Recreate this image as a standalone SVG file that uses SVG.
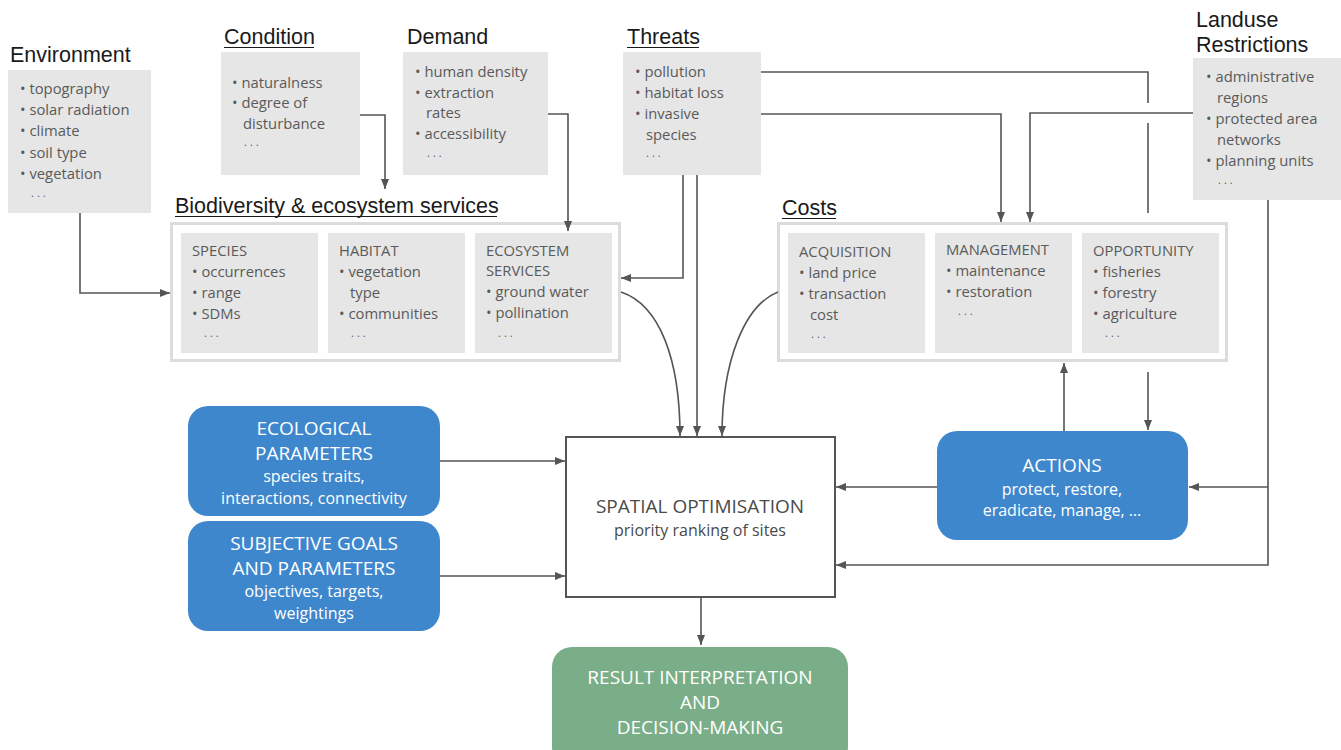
<svg xmlns="http://www.w3.org/2000/svg" width="1341" height="750" viewBox="0 0 1341 750">
<defs>
<marker id="ah" markerWidth="10" markerHeight="8" refX="10" refY="4" orient="auto" markerUnits="userSpaceOnUse"><path d="M0,0 L10,4 L0,8 z" fill="#555"/></marker>
<style>
.title{font-family:"Liberation Sans",Arial,sans-serif;font-size:21.5px;fill:#1a1a1a}
.ul{stroke:#1a1a1a;stroke-width:1}
.gbox{fill:#e6e6e6}
.outer{fill:#fff;stroke:#dcdcdc;stroke-width:3}
.it{font-family:"Open Sans","DejaVu Sans",sans-serif;font-size:14.8px;fill:#5a5a5a}
.hd{font-family:"Open Sans","DejaVu Sans",sans-serif;font-size:14.8px;fill:#5a5a5a}
.dots{font-size:11px;letter-spacing:3px}
.blue{fill:#3e87cd}
.green{fill:#7aae88}
.wh{font-family:"Open Sans","DejaVu Sans",sans-serif;fill:#fff;text-anchor:middle}
.wh1{font-size:19px}
.wh2{font-size:16px}
.conn{fill:none;stroke:#555;stroke-width:1.6}
</style>
</defs>
<rect width="1341" height="750" fill="#fff"/>

<g id="environment">
<text class="title" x="10" y="62">Environment</text>
<rect class="gbox" x="8" y="70" width="143" height="143"/>
<text class="it" x="20" y="94">• topography</text>
<text class="it" x="20" y="115">• solar radiation</text>
<text class="it" x="20" y="136">• climate</text>
<text class="it" x="20" y="158">• soil type</text>
<text class="it" x="20" y="179">• vegetation</text>
<text class="it dots" x="31" y="197">...</text>
</g>

<g id="condition">
<text class="title" x="224" y="44">Condition</text>
<line class="ul" x1="224" y1="47.5" x2="314" y2="47.5"/>
<rect class="gbox" x="221" y="52" width="139" height="123"/>
<text class="it" x="232" y="88">• naturalness</text>
<text class="it" x="232" y="108">• degree of</text>
<text class="it" x="243" y="129">disturbance</text>
<text class="it dots" x="244" y="146">...</text>
</g>

<g id="demand">
<text class="title" x="407" y="44">Demand</text>
<rect class="gbox" x="403" y="52" width="145" height="123"/>
<text class="it" x="415" y="77">• human density</text>
<text class="it" x="415" y="98">• extraction</text>
<text class="it" x="426" y="118">rates</text>
<text class="it" x="415" y="139">• accessibility</text>
<text class="it dots" x="427" y="157">...</text>
</g>

<g id="threats">
<text class="title" x="627" y="44">Threats</text>
<line class="ul" x1="627" y1="47.5" x2="699" y2="47.5"/>
<rect class="gbox" x="623" y="52" width="138" height="123"/>
<text class="it" x="635" y="77">• pollution</text>
<text class="it" x="635" y="98">• habitat loss</text>
<text class="it" x="635" y="119">• invasive</text>
<text class="it" x="646" y="140">species</text>
<text class="it dots" x="646" y="157">...</text>
</g>

<g id="landuse">
<text class="title" x="1196" y="27">Landuse</text>
<text class="title" x="1196" y="52">Restrictions</text>
<rect class="gbox" x="1193" y="58" width="148" height="142"/>
<text class="it" x="1206" y="82">• administrative</text>
<text class="it" x="1217" y="103">regions</text>
<text class="it" x="1206" y="124">• protected area</text>
<text class="it" x="1217" y="145">networks</text>
<text class="it" x="1206" y="166">• planning units</text>
<text class="it dots" x="1218" y="184">...</text>
</g>

<g id="biodiversity">
<text class="title" x="175" y="213">Biodiversity &amp; ecosystem services</text>
<line class="ul" x1="175" y1="216.5" x2="497" y2="216.5"/>
<rect class="outer" x="171.5" y="223.5" width="448" height="137"/>
<rect class="gbox" x="181" y="233" width="137" height="120"/>
<rect class="gbox" x="328" y="233" width="137" height="120"/>
<rect class="gbox" x="475" y="233" width="137" height="120"/>
<text class="hd" x="192" y="256">SPECIES</text>
<text class="it" x="192" y="277">• occurrences</text>
<text class="it" x="192" y="298">• range</text>
<text class="it" x="192" y="319">• SDMs</text>
<text class="it dots" x="204" y="337">...</text>
<text class="hd" x="339" y="256">HABITAT</text>
<text class="it" x="339" y="277">• vegetation</text>
<text class="it" x="350" y="298">type</text>
<text class="it" x="339" y="319">• communities</text>
<text class="it dots" x="351" y="337">...</text>
<text class="hd" x="486" y="256">ECOSYSTEM</text>
<text class="hd" x="486" y="276">SERVICES</text>
<text class="it" x="486" y="297">• ground water</text>
<text class="it" x="486" y="318">• pollination</text>
<text class="it dots" x="498" y="337">...</text>
</g>

<g id="costs">
<text class="title" x="782" y="215">Costs</text>
<line class="ul" x1="782" y1="218.5" x2="836" y2="218.5"/>
<rect class="outer" x="778.5" y="223.5" width="448" height="137"/>
<rect class="gbox" x="788" y="233" width="137" height="120"/>
<rect class="gbox" x="935" y="233" width="137" height="120"/>
<rect class="gbox" x="1082" y="233" width="137" height="120"/>
<text class="hd" x="799" y="257">ACQUISITION</text>
<text class="it" x="799" y="278">• land price</text>
<text class="it" x="799" y="299">• transaction</text>
<text class="it" x="810" y="320">cost</text>
<text class="it dots" x="811" y="338">...</text>
<text class="hd" x="946" y="255">MANAGEMENT</text>
<text class="it" x="946" y="276">• maintenance</text>
<text class="it" x="946" y="297">• restoration</text>
<text class="it dots" x="958" y="315">...</text>
<text class="hd" x="1093" y="256">OPPORTUNITY</text>
<text class="it" x="1093" y="277">• fisheries</text>
<text class="it" x="1093" y="298">• forestry</text>
<text class="it" x="1093" y="319">• agriculture</text>
<text class="it dots" x="1105" y="337">...</text>
</g>

<g id="ecological">
<rect class="blue" x="188" y="406" width="252" height="110" rx="20"/>
<text class="wh wh1" x="314" y="435">ECOLOGICAL</text>
<text class="wh wh1" x="314" y="460">PARAMETERS</text>
<text class="wh wh2" x="314" y="482">species traits,</text>
<text class="wh wh2" x="314" y="504">interactions, connectivity</text>
</g>

<g id="subjective">
<rect class="blue" x="188" y="521" width="252" height="110" rx="20"/>
<text class="wh wh1" x="314" y="550">SUBJECTIVE GOALS</text>
<text class="wh wh1" x="314" y="575">AND PARAMETERS</text>
<text class="wh wh2" x="314" y="597">objectives, targets,</text>
<text class="wh wh2" x="314" y="619">weightings</text>
</g>

<g id="spatial">
<rect x="566" y="437" width="269" height="160" fill="#fff" stroke="#555" stroke-width="2"/>
<text x="700" y="513" text-anchor="middle" font-family="Open Sans, DejaVu Sans, sans-serif" font-size="19" fill="#4a4a4a">SPATIAL OPTIMISATION</text>
<text x="700" y="536" text-anchor="middle" font-family="Open Sans, DejaVu Sans, sans-serif" font-size="16" fill="#4a4a4a">priority ranking of sites</text>
</g>

<g id="actions">
<rect class="blue" x="937" y="431" width="251" height="109" rx="20"/>
<text class="wh wh1" x="1062" y="472">ACTIONS</text>
<text class="wh wh2" x="1062" y="495">protect, restore,</text>
<text class="wh wh2" x="1062" y="516">eradicate, manage, …</text>
</g>

<g id="result">
<rect class="green" x="552" y="647" width="296" height="120" rx="20"/>
<text class="wh wh1" x="700" y="684">RESULT INTERPRETATION</text>
<text class="wh wh1" x="700" y="709">AND</text>
<text class="wh wh1" x="700" y="734">DECISION-MAKING</text>
</g>

<g id="connectors">
<path class="conn" d="M80,213 V293 H170" marker-end="url(#ah)"/>
<path class="conn" d="M360,115 H385 V189" marker-end="url(#ah)"/>
<path class="conn" d="M548,114 H568 V231" marker-end="url(#ah)"/>
<path class="conn" d="M683,175 V278 H621" marker-end="url(#ah)"/>
<path class="conn" d="M697,175 V436" marker-end="url(#ah)"/>
<path class="conn" d="M621,292 C660,305 680,360 680,436" marker-end="url(#ah)"/>
<path class="conn" d="M778,292 C745,305 722,360 722,436" marker-end="url(#ah)"/>
<path class="conn" d="M761,72 H1148 V103"/>
<path class="conn" d="M1148,123 V213"/>
<path class="conn" d="M1148,372 V430" marker-end="url(#ah)"/>
<path class="conn" d="M761,114 H1001 V222" marker-end="url(#ah)"/>
<path class="conn" d="M1193,113 H1030 V222" marker-end="url(#ah)"/>
<path class="conn" d="M1268,200 V565 H836" marker-end="url(#ah)"/>
<path class="conn" d="M1268,487 H1189" marker-end="url(#ah)"/>
<path class="conn" d="M1064,431 V363" marker-end="url(#ah)"/>
<path class="conn" d="M937,487 H836" marker-end="url(#ah)"/>
<path class="conn" d="M440,461 H565" marker-end="url(#ah)"/>
<path class="conn" d="M440,576 H565" marker-end="url(#ah)"/>
<path class="conn" d="M701,597 V645" marker-end="url(#ah)"/>
</g>
</svg>
